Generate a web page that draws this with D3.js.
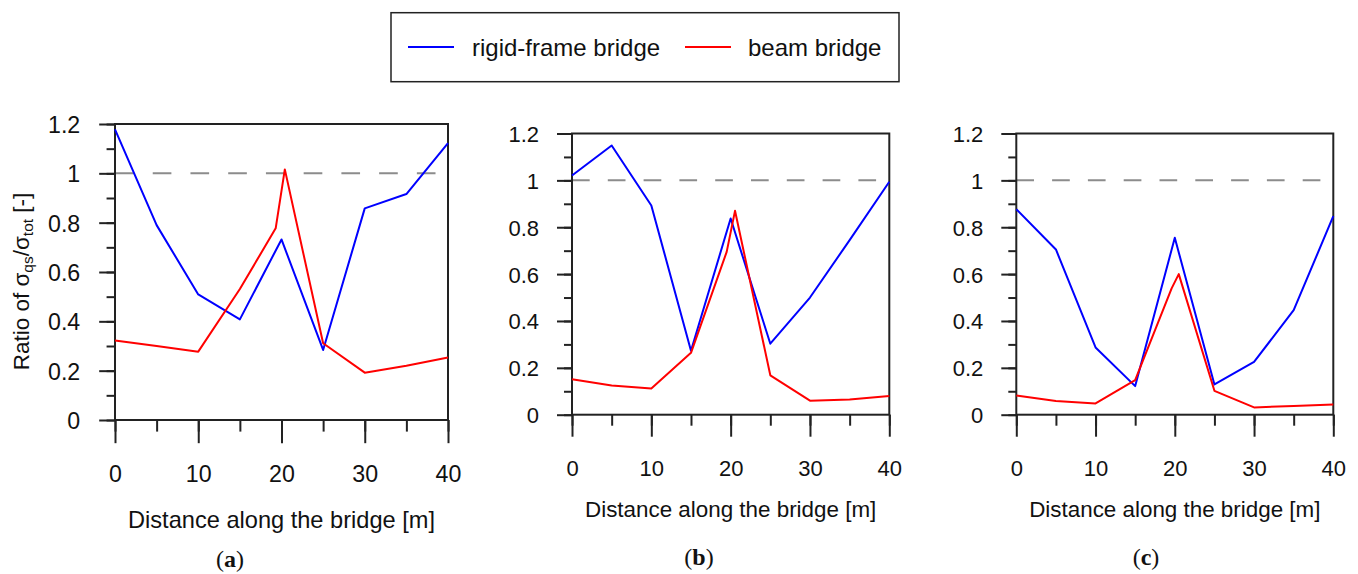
<!DOCTYPE html>
<html>
<head>
<meta charset="utf-8">
<script src="https://cdn.jsdelivr.net/npm/d3@7"></script>
<style>
    body { margin: 0; background: #fff; }
    svg text { font-family: "Liberation Sans", Arial, sans-serif; fill: #111; }
</style>
</head>
<body>
<div id="graph"></div>
<script>
"use strict";

// data
const distTicks = [0, 5, 10, 15, 20, 25, 30, 35, 40];
const distLabels = [0, 10, 20, 30, 40];
const ratioTicks = [0, 0.1, 0.2, 0.3, 0.4, 0.5, 0.6, 0.7, 0.8, 0.9, 1, 1.1, 1.2];
const ratioLabelled = [0, 0.2, 0.4, 0.6, 0.8, 1, 1.2];
const ratioLabels = ["0", "0.2", "0.4", "0.6", "0.8", "1", "1.2"];
const limitRatio = 1;

const seriesNames = ["rigid-frame bridge", "beam bridge"];
const seriesColors = ["#0000ff", "#ff0000"];
const panelLetters = ["a", "b", "c"];

const rigidA = [[0, 1.178], [5, 0.79], [10, 0.509], [15, 0.408], [20, 0.732], [25, 0.284], [30, 0.858], [35, 0.916], [40, 1.122]];
const beamA = [[0, 0.322], [5, 0.30], [10, 0.277], [15, 0.531], [19.3, 0.777], [20.4, 1.016], [25, 0.311], [30, 0.192], [35, 0.22], [40, 0.253]];

const rigidB = [[0, 1.021], [5, 1.149], [10, 0.893], [15, 0.273], [20, 0.837], [25, 0.303], [30, 0.5], [35, 0.745], [40, 0.994]];
const beamB = [[0, 0.151], [5, 0.125], [10, 0.112], [15, 0.264], [19.5, 0.695], [20.55, 0.87], [25, 0.168], [30, 0.06], [35, 0.065], [40, 0.08]];

const rigidC = [[0, 0.877], [5, 0.705], [10, 0.287], [15, 0.122], [20, 0.755], [25, 0.129], [30, 0.225], [35, 0.446], [40, 0.847]];
const beamC = [[0, 0.082], [5, 0.058], [10, 0.048], [15, 0.148], [19.6, 0.539], [20.5, 0.6], [25, 0.102], [30, 0.031], [35, 0.037], [40, 0.043]];

(function() {
    const svgSize = { width: 1358, height: 574 };
    const ink = "#222";

    // placement of each panel on the page
    const panels = [
        { left: 115, right: 448, top: 124, bottom: 420, s: 1.054, tickBase: 61.7, titleBase: 108, letterX: 230, letterBase: 567,
          series: [rigidA, beamA], yLabel: true },
        { left: 572, right: 889.3, top: 133.5, bottom: 414.7, s: 1, tickBase: 61.3, titleBase: 102.3, letterX: 699, letterBase: 565,
          series: [rigidB, beamB], yLabel: false },
        { left: 1016.3, right: 1333.3, top: 133.5, bottom: 414.7, s: 1, tickBase: 61.3, titleBase: 102.3, letterX: 1146, letterBase: 565,
          series: [rigidC, beamC], yLabel: false }
    ];

    window.addEventListener("load", init);

    function init() {
        const svg = d3.select("#graph")
            .append("svg")
                .attr("width", svgSize.width)
                .attr("height", svgSize.height);

        drawLegend(svg);
        panels.forEach((p, i) => drawPanel(svg, p, panelLetters[i]));
    }

    function drawLegend(svg) {
        svg.append("rect")
            .attr("x", 391)
            .attr("y", 12.7)
            .attr("width", 508)
            .attr("height", 69)
            .attr("fill", "none")
            .attr("stroke", ink)
            .attr("stroke-width", 1.5);

        const items = [
            { x1: 408, x2: 454, tx: 472 },
            { x1: 685, x2: 731, tx: 748 }
        ];
        items.forEach((it, i) => {
            svg.append("line")
                .attr("x1", it.x1).attr("x2", it.x2)
                .attr("y1", 47).attr("y2", 47)
                .attr("stroke", seriesColors[i])
                .attr("stroke-width", 2);
            svg.append("text")
                .attr("x", it.tx)
                .attr("y", 55.5)
                .style("font-size", "24px")
                .text(seriesNames[i]);
        });
    }

    function drawPanel(svg, p, letter) {
        const s = p.s;
        const fs = 22 * s;

        const xScale = d3.scaleLinear()
            .domain([0, 40])
            .range([p.left, p.right]);
        const yScale = d3.scaleLinear()
            .domain([0, 1.2])
            .range([p.bottom, p.top]);

        const g = svg.append("g");

        // limit line at ratio 1
        g.append("line")
            .attr("x1", xScale(0))
            .attr("x2", xScale(40))
            .attr("y1", yScale(limitRatio))
            .attr("y2", yScale(limitRatio))
            .attr("stroke", "#8c8c8c")
            .attr("stroke-width", 2)
            .attr("stroke-dasharray", (17.7 * s) + " " + (18.1 * s));

        // minor ticks (unlabelled)
        g.append("g")
            .attr("transform", "translate(" + p.left + ",0)")
            .call(d3.axisLeft(yScale).tickValues(ratioTicks).tickSize(8 * s).tickFormat(""))
            .call(styleAxis);
        g.append("g")
            .attr("transform", "translate(0," + p.bottom + ")")
            .call(d3.axisBottom(xScale).tickValues(distTicks).tickSize(11 * s).tickFormat(""))
            .call(styleAxis);

        // major ticks with labels
        const yMajor = 15 * s;
        g.append("g")
            .attr("transform", "translate(" + p.left + ",0)")
            .call(d3.axisLeft(yScale)
                .tickValues(ratioLabelled)
                .tickSize(yMajor)
                .tickPadding(33 * s - yMajor)
                .tickFormat((d, i) => ratioLabels[i]))
            .call(styleAxis)
            .call(a => a.selectAll("text").style("font-size", fs + "px").attr("dy", "0.36em"));

        const xMajor = 22 * s;
        g.append("g")
            .attr("transform", "translate(0," + p.bottom + ")")
            .call(d3.axisBottom(xScale)
                .tickValues(distLabels)
                .tickSize(xMajor)
                .tickPadding(p.tickBase - 0.71 * fs - xMajor)
                .tickFormat(d3.format("d")))
            .call(styleAxis)
            .call(a => a.selectAll("text").style("font-size", fs + "px"));

        // frame
        g.append("rect")
            .attr("x", p.left)
            .attr("y", p.top)
            .attr("width", p.right - p.left)
            .attr("height", p.bottom - p.top)
            .attr("fill", "none")
            .attr("stroke", ink)
            .attr("stroke-width", 2);

        const line = d3.line()
            .x(d => xScale(d[0]))
            .y(d => yScale(d[1]));

        p.series.forEach((data, i) => {
            g.append("path")
                .datum(data)
                .attr("d", line)
                .attr("fill", "none")
                .attr("stroke", seriesColors[i])
                .attr("stroke-width", 2)
                .attr("stroke-linejoin", "round");
        });

        // x axis title
        g.append("text")
            .attr("x", (p.left + p.right) / 2)
            .attr("y", p.bottom + p.titleBase)
            .attr("text-anchor", "middle")
            .style("font-size", (22.4 * s) + "px")
            .text("Distance along the bridge [m]");

        // panel letter
        const lt = g.append("text")
            .attr("x", p.letterX)
            .attr("y", p.letterBase)
            .attr("text-anchor", "middle")
            .style("font-family", "'Liberation Serif', 'DejaVu Serif', serif")
            .style("font-size", "24px");
        lt.append("tspan").text("(");
        lt.append("tspan").style("font-weight", "bold").text(letter);
        lt.append("tspan").text(")");

        if (p.yLabel) {
            const yl = g.append("text")
                .attr("transform", "translate(28.5," + ((p.top + p.bottom) / 2 + 9.5) + ") rotate(-90)")
                .attr("text-anchor", "middle")
                .style("font-size", "22.5px");
            yl.append("tspan").text("Ratio of \u03c3");
            yl.append("tspan").attr("baseline-shift", "-22%").style("font-size", "15.5px").text("qs");
            yl.append("tspan").text("/\u03c3");
            yl.append("tspan").attr("baseline-shift", "-22%").style("font-size", "15.5px").text("tot");
            yl.append("tspan").text(" [-]");
        }
    }

    function styleAxis(a) {
        a.select(".domain").remove();
        a.selectAll(".tick line")
            .attr("stroke", ink)
            .attr("stroke-width", 2);
        a.selectAll("text")
            .attr("fill", "#111")
            .style("font-family", "'Liberation Sans', Arial, sans-serif");
    }
})();
</script>
</body>
</html>
